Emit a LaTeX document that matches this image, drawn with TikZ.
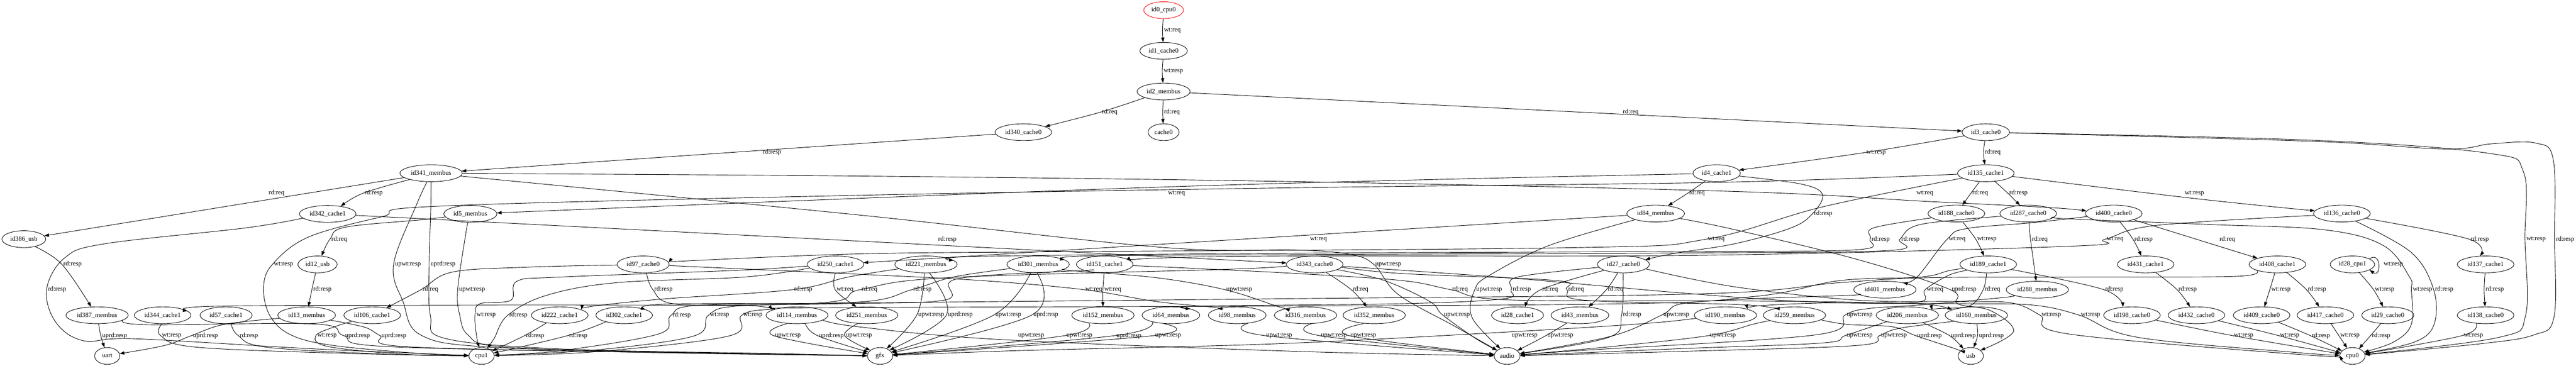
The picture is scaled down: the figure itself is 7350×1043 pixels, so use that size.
\documentclass[tikz,border=0pt]{standalone}
\usepackage{fontspec}
\setmainfont{Liberation Serif}
\usetikzlibrary{shapes.geometric,arrows.meta}
\newcounter{lc}
\tikzset{
  st/.style={ellipse,draw,line width=1pt,inner xsep=4pt,inner ysep=2pt,minimum width=54pt,minimum height=36pt,font=\fontsize{14}{16}\selectfont},
  lab/.style={inner sep=0pt,font=\fontsize{14}{16}\selectfont},
  edge/.style={draw,line width=1pt,-{Triangle[length=10pt,width=7pt]}}
}
% generic edge: src, dir point at start, point list, dir point at end, tgt
\newcommand\E[5]{%
  \path (#1) -- #2 coordinate[pos=0] (es);
  \path #4 -- (#5) coordinate[pos=1] (et);
  \draw[edge] plot[smooth,tension=0.6] coordinates {(es) #3 (et)};}
% labelled edge with route
\newcommand\Lb[7]{%
  \stepcounter{lc}\node[lab] (lab\thelc) at (#2) {#3};
  \coordinate (ew) at ([xshift=-3pt]lab\thelc.west);
  \E{#1}{#4}{#5}{#6}{#7}}
% labelled edge passing left of its label
\newcommand\La[4]{\Lb{#1}{#2}{#3}{(ew)}{(ew)}{(ew)}{#4}}
% labelled straight edge
\newcommand\Ls[4]{%
  \stepcounter{lc}\node[lab] (lab\thelc) at (#2) {#3};
  \draw[edge] (#1) -- (#4);}
\begin{document}
\begin{tikzpicture}[x=0.75pt,y=-0.75pt]
\useasboundingbox (0,0) rectangle (7350,1043);
% ---------------- nodes ----------------
\node[st,draw=red] (id0) at (3320,29) {id0\_cpu0};
\node[st] (id1) at (3320,145) {id1\_cache0};
\node[st] (id2) at (3320,261) {id2\_membus};
\node[st] (id340) at (2920,377) {id340\_cache0};
\node[st] (cachezero) at (3320,377) {cache0};
\node[st] (id3) at (5666,377) {id3\_cache0};
\node[st] (id341) at (1230,494) {id341\_membus};
\node[st] (id4) at (4898,494) {id4\_cache1};
\node[st] (id135) at (5666,494) {id135\_cache1};
\node[st] (id342) at (935,610) {id342\_cache1};
\node[st] (id5) at (1342,610) {id5\_membus};
\node[st] (id84) at (4724,609) {id84\_membus};
\node[st] (id188) at (5582,609) {id188\_cache0};
\node[st] (id287) at (5787,609) {id287\_cache0};
\node[st] (id400) at (6031,609) {id400\_cache0};
\node[st] (id136) at (6682,609) {id136\_cache0};
\node[st] (id386) at (68,682) {id386\_usb};
\node[st] (id12) at (906,754) {id12\_usb};
\node[st] (id97) at (1835,754) {id97\_cache0};
\node[st] (id250) at (2384,754) {id250\_cache1};
\node[st] (id221) at (2642,754) {id221\_membus};
\node[st] (id301) at (2962,754) {id301\_membus};
\node[st] (id151) at (3152,754) {id151\_cache1};
\node[st] (id343) at (3751,754) {id343\_cache0};
\node[st] (id27) at (4632,754) {id27\_cache0};
\node[st] (id189) at (5673,754) {id189\_cache1};
\node[st] (id431) at (6122,754) {id431\_cache1};
\node[st] (id408) at (6498,754) {id408\_cache1};
\node[st] (id28c) at (6712,754) {id28\_cpu1};
\node[st] (id137) at (7092,754) {id137\_cache1};
\node[st] (id401) at (5378,826) {id401\_membus};
\node[st] (id288) at (5813,826) {id288\_membus};
\node[st] (id387) at (277,899) {id387\_membus};
\node[st] (id344) at (464,899) {id344\_cache1};
\node[st] (id57) at (645,899) {id57\_cache1};
\node[st] (id13) at (875,899) {id13\_membus};
\node[st] (id106) at (1062,899) {id106\_cache1};
\node[st] (id222) at (1597,899) {id222\_cache1};
\node[st] (id302) at (1781,899) {id302\_cache1};
\node[st] (id114) at (2274,899) {id114\_membus};
\node[st] (id251) at (2473,899) {id251\_membus};
\node[st] (id152) at (3147,899) {id152\_membus};
\node[st] (id64) at (3341,899) {id64\_membus};
\node[st] (id98) at (3530,899) {id98\_membus};
\node[st] (id316) at (3725,899) {id316\_membus};
\node[st] (id352) at (3921,899) {id352\_membus};
\node[st] (id28k) at (4330,899) {id28\_cache1};
\node[st] (id43) at (4508,899) {id43\_membus};
\node[st] (id190) at (4923,899) {id190\_membus};
\node[st] (id259) at (5120,899) {id259\_membus};
\node[st] (id206) at (5442,899) {id206\_membus};
\node[st] (id160) at (5639,899) {id160\_membus};
\node[st] (id198) at (6083,899) {id198\_cache0};
\node[st] (id432) at (6267,899) {id432\_cache0};
\node[st] (id409) at (6453,899) {id409\_cache0};
\node[st] (id417) at (6635,899) {id417\_cache0};
\node[st] (id29) at (6813,899) {id29\_cache0};
\node[st] (id138) at (7092,899) {id138\_cache0};
\node[st] (uart) at (306,1015) {uart};
\node[st] (cpuone) at (1374,1015) {cpu1};
\node[st] (gfx) at (2511,1015) {gfx};
\node[st] (audio) at (4300,1015) {audio};
\node[st] (usb) at (5623,1015) {usb};
\node[st] (cpuzero) at (6712,1015) {cpu0};
% ---------------- edges ----------------
\La{id0}{3345,87}{wt:req}{id1}
\La{id1}{3348,203}{wt:resp}{id2}
\La{id2}{3166,320}{rd:req}{id340}
\La{id2}{3344,320}{rd:req}{cachezero}
\Ls{id2}{4653,320}{rd:req}{id3}
\Ls{id340}{2203,435}{rd:resp}{id341}
\La{id3}{5353,435}{wt:resp}{id4}
\La{id3}{5686,435}{rd:req}{id135}
\Lb{id3}{7236,682}{wt:resp}{(6600,400)}{(6600,400) (7100,437) (7200,490) (ew) (7206,900) (7130,962)}{(7130,962)}{cpuzero}
\Lb{id3}{7319,682}{rd:resp}{(6600,403)}{(6600,403) (6975,425) (7110,410) (7235,408) (7285,455) (ew) (7287,905) (7230,955) (7080,980)}{(7080,980)}{cpuzero}
\Ls{id341}{789,551}{rd:req}{id386}
\La{id341}{1066,551}{rd:resp}{id342}
\Lb{id4}{3357,551}{wt:req}{(3357,532)}{(3357,532)}{(3357,532)}{id5}
\La{id4}{4842,551}{rd:req}{id84}
\Lb{id341}{5492,551}{wt:req}{(2450,502)}{(2450,502) (3700,518) (4950,546) (5492,574) (5850,592)}{(5850,592)}{id400}
\La{id135}{5650,551}{rd:req}{id188}
\La{id135}{5759,551}{rd:resp}{id287}
\Lb{id135}{6261,551}{wt:resp}{(6261,566)}{(6261,566)}{(6261,566)}{id136}
\Lb{id135}{809,754}{wt:resp}{(4900,520)}{(4900,520) (3650,536) (2400,558) (1250,588) (1090,618) (880,676) (ew) (752,820) (770,900) (830,955) (950,985) (1200,1008)}{(1200,1008)}{cpuone}
\Lb{id4}{5202,609}{rd:resp}{(5140,525)}{(5140,525) (5200,555) (ew) (5110,650) (4950,695) (4780,722)}{(4780,722)}{id27}
\Lb{id341}{1164,754}{upwt:resp}{(1190,580)}{(1190,580) (ew) (1150,860) (1200,955) (1400,990) (2000,1006)}{(2000,1006)}{gfx}
\Lb{id341}{1264,754}{uprd:resp}{(1229,600)}{(1229,600) (ew) (1228,900) (1270,965) (1600,995) (2200,1008)}{(2200,1008)}{gfx}
\Lb{id341}{3961,754}{upwt:resp}{(2450,613)}{(2450,613) (3310,705) (3700,713) (3850,725) (ew) (3990,840) (4150,930)}{(4150,930)}{audio}
\Lb{id342}{163,826}{rd:resp}{(700,650)}{(700,650) (300,695) (185,735) (ew) (160,920) (240,972) (383,966) (900,995)}{(900,995)}{cpuone}
\Ls{id342}{2703,682}{rd:resp}{id343}
\Lb{id5}{968,682}{rd:req}{(1200,627)}{(1200,627) (985,648) (ew)}{(ew)}{id12}
\Lb{id5}{1347,826}{upwt:resp}{(1330,660)}{(1330,660) (ew) (1312,900) (1335,955) (1420,988) (1800,1002)}{(1800,1002)}{gfx}
\La{id386}{207,754}{rd:resp}{id387}
\La{id387}{327,957}{uprd:resp}{uart}
\Lb{id387}{1020,957}{uprd:resp}{(420,926)}{(420,926) (900,924) (ew) (1100,988) (1900,1006)}{(1900,1006)}{gfx}
\Lb{id13}{586,957}{uprd:resp}{(640,925)}{(640,925) (ew) (470,985)}{(470,985)}{uart}
\Lb{id13}{1124,957}{uprd:resp}{(1040,933)}{(1040,933) (ew) (1150,988) (1800,1004)}{(1800,1004)}{gfx}
\La{id12}{920,826}{rd:resp}{id13}
\Lb{id344}{490,957}{wt:resp}{(ew)}{(ew) (560,990) (1000,1008)}{(1000,1008)}{cpuone}
\Lb{id57}{710,957}{rd:resp}{(ew)}{(ew) (760,990) (1100,1010)}{(1100,1010)}{cpuone}
\Lb{id106}{933,957}{wt:resp}{(960,930)}{(960,930) (ew) (935,988) (1150,1010)}{(1150,1010)}{cpuone}
\Lb{id97}{1228,826}{rd:req}{(1500,762)}{(1500,762) (1290,776) (ew)}{(ew)}{id106}
\Lb{id250}{1387,899}{wt:resp}{(2100,771)}{(2100,771) (1600,790) (1475,802) (1458,856) (1370,866) (ew) (1360,960)}{(1360,960)}{cpuone}
\Lb{id250}{1479,899}{rd:resp}{(2124,790)}{(2124,790) (1760,806) (1560,842) (ew) (1410,965)}{(1410,965)}{cpuone}
\La{id222}{1527,957}{rd:resp}{cpuone}
\La{id302}{1650,957}{rd:resp}{cpuone}
\Lb{id97}{1893,826}{rd:resp}{(ew)}{(ew) (1920,866) (2150,872)}{(2150,872)}{id114}
\La{id250}{2411,826}{wt:req}{id251}
\La{id114}{2248,957}{upwt:resp}{gfx}
\La{id114}{2372,957}{uprd:resp}{gfx}
\La{id251}{2451,957}{upwt:resp}{gfx}
\Lb{id114}{2942,957}{upwt:resp}{(2450,932)}{(2450,932) (2850,968) (3700,1002)}{(3700,1002)}{audio}
\La{id221}{2657,898}{upwt:resp}{gfx}
\La{id221}{2740,898}{uprd:resp}{gfx}
\La{id301}{2877,898}{upwt:resp}{gfx}
\La{id301}{2984,898}{uprd:resp}{gfx}
\Lb{id301}{3536,826}{upwt:resp}{(3060,772)}{(3060,772) (3300,792) (ew) (3640,872)}{(3640,872)}{id316}
\Lb{id221}{2292,826}{rd:resp}{(2420,790)}{(2420,790) (ew) (1900,852) (1700,872)}{(1700,872)}{id222}
\Lb{id301}{2632,826}{rd:resp}{(2720,790)}{(2720,790) (ew) (2440,862) (1900,867)}{(1900,867)}{id302}
\Lb{id343}{2481,826}{rd:req}{(3500,768)}{(3500,768) (2700,792) (ew) (2300,866) (1400,870) (620,873)}{(620,873)}{id344}
\La{id151}{3175,826}{wt:req}{id152}
\Lb{id151}{2053,899}{wt:resp}{(3096,771)}{(3096,771) (2732,795) (2698,855) (2400,866) (2100,873) (ew) (1980,958) (1700,998)}{(1700,998)}{cpuone}
\Lb{id151}{4166,826}{rd:req}{(3400,765)}{(3400,765) (3700,780) (4000,800) (ew) (4300,855) (4950,858) (5300,862) (5500,868)}{(5500,868)}{id160}
\Lb{id97}{3121,826}{wt:req}{(2450,782)}{(2450,782) (2800,800) (ew) (3300,860) (3460,876)}{(3460,876)}{id98}
\La{id343}{3882,826}{rd:req}{id352}
\Lb{id343}{4497,826}{rd:req}{(4000,780)}{(4000,780) (4440,800) (ew) (4520,856) (4950,868) (5060,878)}{(5060,878)}{id259}
\Lb{id343}{4157,898}{upwt:resp}{(3950,800)}{(3950,800) (4080,860) (ew) (4210,965)}{(4210,965)}{audio}
\Lb{id343}{5965,899}{wt:resp}{(4300,792)}{(4300,792) (4830,838) (5200,862) (5600,866) (5800,870) (ew) (6100,962) (6550,1005)}{(6550,1005)}{cpuzero}
\Lb{id27}{5853,899}{wt:resp}{(4950,818)}{(4950,818) (5300,856) (5600,860) (5740,864) (ew) (5900,952) (6550,1010)}{(6550,1010)}{cpuzero}
\La{id27}{4423,826}{rd:req}{id28k}
\La{id27}{4610,826}{rd:req}{id43}
\Lb{id27}{4342,826}{rd:resp}{(4330,790)}{(4330,790) (ew) (4290,852) (4000,866) (3420,873)}{(3420,873)}{id64}
\Lb{id27}{4657,898}{rd:resp}{(ew)}{(ew) (4590,962)}{(4590,962)}{audio}
\Ls{id84}{3762,682}{wt:req}{id250}
\Lb{id135}{4897,682}{wt:req}{(5200,590)}{(5200,590) (ew) (4500,706) (3000,718) (2450,724) (2000,742)}{(2000,742)}{id97}
\Lb{id188}{5366,682}{rd:resp}{(5345,650)}{(5345,650) (ew) (5300,712) (4850,717) (3700,722) (2800,731)}{(2800,731)}{id221}
\Lb{id287}{5451,682}{rd:resp}{(5480,640)}{(5480,640) (ew) (5395,714) (4850,721) (3700,726) (3100,730)}{(3100,730)}{id301}
\Lb{id136}{6035,682}{wt:req}{(6150,643)}{(6150,643) (ew) (5911,702) (4850,728) (3700,730) (3300,736)}{(3300,736)}{id151}
\La{id188}{5669,682}{wt:resp}{id189}
\La{id287}{5820,682}{rd:req}{id288}
\Lb{id287}{6912,826}{wt:resp}{(5900,624)}{(5900,624) (6300,640) (6630,655) (6800,700) (6875,790) (ew) (6880,925) (6830,975)}{(6830,975)}{cpuzero}
\Lb{id400}{5584,682}{wt:req}{(5800,635)}{(5800,635) (5610,652) (ew) (5470,790)}{(5470,790)}{id401}
\La{id400}{6116,682}{rd:resp}{id431}
\Ls{id400}{6355,682}{rd:req}{id408}
\La{id136}{7075,682}{rd:resp}{id137}
\Lb{id136}{6974,826}{rd:resp}{(6880,720)}{(6880,720) (ew) (6945,925) (6890,975)}{(6890,975)}{cpuzero}
\La{id137}{7118,826}{rd:resp}{id138}
\La{id138}{7057,957}{wt:resp}{cpuzero}
\La{id431}{6242,826}{rd:resp}{id432}
\La{id408}{6508,826}{wt:resp}{id409}
\La{id408}{6611,826}{rd:resp}{id417}
\Lb{id408}{1945,899}{rd:resp}{(6380,788)}{(6380,788) (5950,790) (5500,792) (5250,806) (4850,838) (3650,852) (2450,864) (2000,870) (ew) (1880,952) (1600,1000)}{(1600,1000)}{cpuone}
\La{id28c}{6804,826}{wt:resp}{id29}
\draw[edge] (id28c.18) .. controls +(34,-24) and +(34,24) .. (id28c.-18);
\node[lab] (labloop) at (6829,754) {wt:resp};
\Lb{id189}{5521,826}{wt:req}{(5560,785)}{(5560,785) (ew) (5470,862) (5200,864) (5020,872)}{(5020,872)}{id190}
\Lb{id189}{5685,826}{rd:req}{(ew)}{(ew) (5620,872) (5530,880)}{(5530,880)}{id206}
\La{id189}{6033,826}{rd:resp}{id198}
\Lb{id189}{2148,899}{wt:resp}{(5560,772)}{(5560,772) (5480,790) (5250,800) (5000,846) (4500,868) (2450,877) (2200,882) (ew) (2080,958) (1700,1003)}{(1700,1003)}{cpuone}
\Lb{id401}{4783,898}{upwt:resp}{(5280,842)}{(5280,842) (5000,852) (4800,866) (ew) (4600,958)}{(4600,958)}{audio}
\Lb{id288}{5306,898}{upwt:resp}{(5720,848)}{(5720,848) (5500,868) (5330,880) (ew) (5180,955) (4500,1000)}{(4500,1000)}{audio}
\Lb{id190}{4350,957}{upwt:resp}{(4700,922)}{(4700,922) (4350,944) (3650,980) (2900,1000)}{(2900,1000)}{gfx}
\La{id43}{4452,957}{upwt:resp}{audio}
\Lb{id259}{4916,957}{upwt:resp}{(5000,925)}{(5000,925) (ew) (4600,988)}{(4600,988)}{audio}
\Lb{id206}{5306,957}{upwt:resp}{(5360,925)}{(5360,925) (ew) (5200,978) (4800,994)}{(4800,994)}{audio}
\Lb{id160}{5404,957}{upwt:resp}{(5560,918)}{(5560,918) (5420,936) (ew) (5300,985) (4800,1002)}{(4800,1002)}{audio}
\Lb{id259}{5505,957}{uprd:resp}{(5270,925)}{(5270,925) (5400,932) (ew) (5580,995)}{(5580,995)}{usb}
\La{id206}{5602,957}{uprd:resp}{usb}
\La{id160}{5682,957}{uprd:resp}{usb}
\Lb{id84}{5604,826}{uprd:resp}{(4950,655)}{(4950,655) (5300,740) (ew) (5585,866) (5680,886) (5745,945)}{(5745,945)}{usb}
\Lb{id84}{4249,826}{upwt:resp}{(4420,700)}{(4420,700) (4250,785) (ew) (4200,905)}{(4200,905)}{audio}
\La{id98}{3650,957}{upwt:resp}{audio}
\La{id316}{3806,957}{upwt:resp}{audio}
\La{id352}{3890,957}{upwt:resp}{audio}
\La{id152}{3080,957}{upwt:resp}{gfx}
\La{id64}{3221,957}{uprd:resp}{gfx}
\La{id64}{3333,957}{upwt:resp}{gfx}
\La{id29}{6794,957}{rd:resp}{cpuzero}
\La{id417}{6705,957}{wt:resp}{cpuzero}
\La{id409}{6622,957}{rd:resp}{cpuzero}
\La{id432}{6533,957}{wt:resp}{cpuzero}
\La{id198}{6402,957}{wt:resp}{cpuzero}
\end{tikzpicture}
\end{document}
